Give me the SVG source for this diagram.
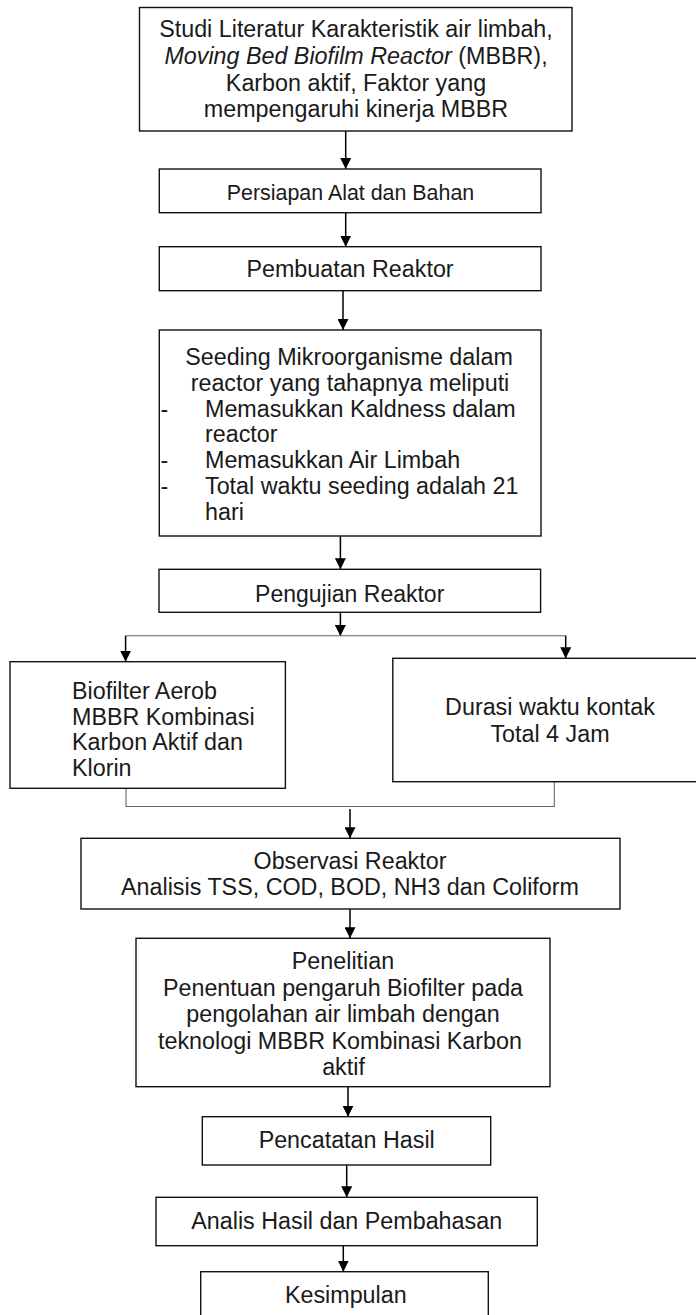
<svg xmlns="http://www.w3.org/2000/svg" width="696" height="1315" viewBox="0 0 696 1315">
<defs>
<style>
.box{fill:#fff;stroke:#111;stroke-width:1.4}
.t{font-family:"Liberation Sans",Arial,sans-serif;font-size:23.3px;fill:#1a1a1a}
.c{text-anchor:middle}
.con{fill:none;stroke:#000;stroke-width:1.5}
.thin{fill:none;stroke:#666;stroke-width:1.1}
</style>
<marker id="ah" viewBox="0 0 10 10" refX="10" refY="5" markerWidth="11" markerHeight="11" markerUnits="userSpaceOnUse" orient="auto">
<path d="M0,0 L10,5 L0,10 z" fill="#000"/>
</marker>
</defs>
<rect width="696" height="1315" fill="#fff"/>

<g id="connectors">
<path class="con" d="M345.7,131 V169" marker-end="url(#ah)"/>
<path class="con" d="M345.7,212.7 V246.7" marker-end="url(#ah)"/>
<path class="con" d="M343,290.7 V330" marker-end="url(#ah)"/>
<path class="con" d="M340.4,536 V569.3" marker-end="url(#ah)"/>
<path class="con" d="M340.4,612.3 V636" marker-end="url(#ah)"/>
<path class="thin" d="M125.6,635.7 H565.7"/>
<path class="con" d="M125.6,635.7 V661.7" marker-end="url(#ah)"/>
<path class="con" d="M565.7,635.7 V658.3" marker-end="url(#ah)"/>
<path class="thin" d="M126,788.3 V806.5 H554.3 V781.7"/>
<path class="con" d="M350,809 V838.3" marker-end="url(#ah)"/>
<path class="con" d="M350,909 V938.3" marker-end="url(#ah)"/>
<path class="con" d="M348,1086.7 V1116.7" marker-end="url(#ah)"/>
<path class="con" d="M346.7,1165 V1197.3" marker-end="url(#ah)"/>
<path class="con" d="M343.3,1245.7 V1271.7" marker-end="url(#ah)"/>
</g>

<g id="n-studi">
<rect class="box" x="139.5" y="7.5" width="432.5" height="123.5"/>
<text class="t c" x="356" y="37.3">Studi Literatur Karakteristik air limbah,</text>
<text class="t c" x="356" y="64"><tspan font-style="italic">Moving Bed Biofilm Reactor</tspan> (MBBR),</text>
<text class="t c" x="356" y="90.7">Karbon aktif, Faktor yang</text>
<text class="t c" x="356" y="117.3">mempengaruhi kinerja MBBR</text>
</g>

<g id="n-persiapan">
<rect class="box" x="159.3" y="169" width="381.7" height="43.7"/>
<text class="t c" x="350.5" y="200" style="font-size:21.4px">Persiapan Alat dan Bahan</text>
</g>

<g id="n-pembuatan">
<rect class="box" x="159.3" y="246.7" width="381.7" height="44"/>
<text class="t c" x="350" y="277">Pembuatan Reaktor</text>
</g>

<g id="n-seeding">
<rect class="box" x="159.3" y="330" width="381.7" height="206"/>
<text class="t c" x="349" y="365">Seeding Mikroorganisme dalam</text>
<text class="t c" x="350" y="390.8">reactor yang tahapnya meliputi</text>
<text class="t" x="160.5" y="416.6">-</text>
<text class="t" x="205" y="416.6">Memasukkan Kaldness dalam</text>
<text class="t" x="205" y="442.4">reactor</text>
<text class="t" x="160.5" y="468.2">-</text>
<text class="t" x="205" y="468.2">Memasukkan Air Limbah</text>
<text class="t" x="160.5" y="494">-</text>
<text class="t" x="205" y="494">Total waktu seeding adalah 21</text>
<text class="t" x="205" y="519.8">hari</text>
</g>

<g id="n-pengujian">
<rect class="box" x="159" y="569.3" width="381.6" height="43"/>
<text class="t c" x="349.7" y="601.7" style="font-size:23px">Pengujian Reaktor</text>
</g>

<g id="n-biofilter">
<rect class="box" x="10" y="661.7" width="275.4" height="126.6"/>
<text class="t" x="72" y="699">Biofilter Aerob</text>
<text class="t" x="72" y="724.7">MBBR Kombinasi</text>
<text class="t" x="72" y="750.3">Karbon Aktif dan</text>
<text class="t" x="72" y="776">Klorin</text>
</g>

<g id="n-durasi">
<rect class="box" x="392.8" y="658.3" width="320" height="123.4"/>
<text class="t c" x="550" y="715">Durasi waktu kontak</text>
<text class="t c" x="550" y="741.7">Total 4 Jam</text>
</g>

<g id="n-observasi">
<rect class="box" x="81" y="838.3" width="539" height="70.7"/>
<text class="t c" x="350" y="869">Observasi Reaktor</text>
<text class="t c" x="350" y="895">Analisis TSS, COD, BOD, NH3 dan Coliform</text>
</g>

<g id="n-penelitian">
<rect class="box" x="136" y="938.3" width="414" height="148.4"/>
<text class="t c" x="343" y="969.3">Penelitian</text>
<text class="t c" x="343" y="995.8">Penentuan pengaruh Biofilter pada</text>
<text class="t c" x="343" y="1022.3">pengolahan air limbah dengan</text>
<text class="t c" x="340" y="1048.8">teknologi MBBR Kombinasi Karbon</text>
<text class="t c" x="343.5" y="1075.3">aktif</text>
</g>

<g id="n-pencatatan">
<rect class="box" x="202.3" y="1116.7" width="288.4" height="48.3"/>
<text class="t c" x="346.7" y="1148">Pencatatan Hasil</text>
</g>

<g id="n-analis">
<rect class="box" x="156" y="1197.3" width="381.3" height="48.4"/>
<text class="t c" x="346.7" y="1229">Analis Hasil dan Pembahasan</text>
</g>

<g id="n-kesimpulan">
<rect class="box" x="200.7" y="1271.7" width="287.6" height="60"/>
<text class="t c" x="345.8" y="1303">Kesimpulan</text>
</g>
</svg>
